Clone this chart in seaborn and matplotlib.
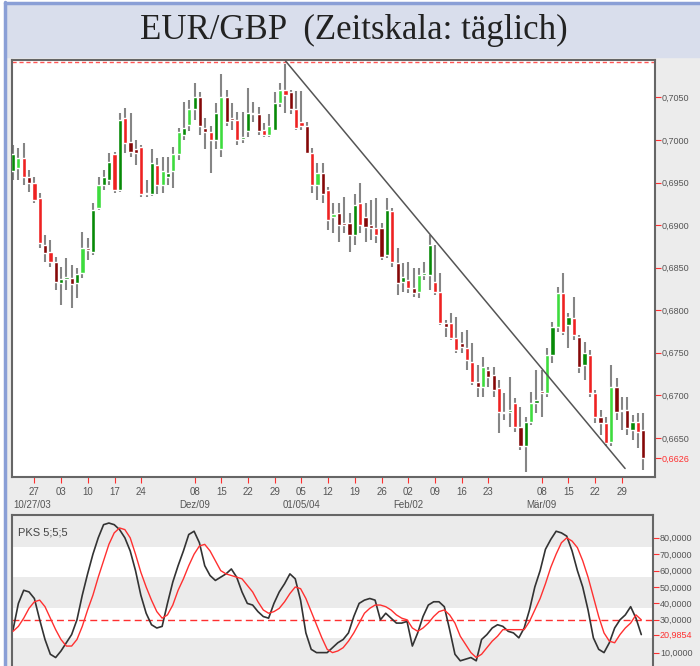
import numpy as np
import matplotlib
matplotlib.use("Agg")
import matplotlib.pyplot as plt
import matplotlib.transforms as mtransforms
from matplotlib.patches import Rectangle
from matplotlib.lines import Line2D
import seaborn as sns

opens = [0.6963, 0.6967, 0.6979, 0.6957, 0.6950, 0.6932, 0.6877, 0.6868, 0.6857, 0.6832,
         0.6837, 0.6838, 0.6832, 0.6844, 0.6873, 0.6868, 0.6920, 0.6947, 0.6953, 0.6983,
         0.6941, 0.7026, 0.6998, 0.6990, 0.6992, 0.6936, 0.6936, 0.6971, 0.6947, 0.6957,
         0.6963, 0.6983, 0.7006, 0.7018, 0.7036, 0.7050, 0.7014, 0.7009, 0.7000, 0.6989,
         0.7050, 0.7026, 0.7024, 0.7001, 0.7010, 0.7030, 0.7030, 0.7012, 0.7006, 0.7012,
         0.7044, 0.7059, 0.7056, 0.7036, 0.7021, 0.7016, 0.6985, 0.6947, 0.6961, 0.6941,
         0.6910, 0.6914, 0.6903, 0.6903, 0.6888, 0.6926, 0.6910, 0.6900, 0.6897, 0.6897,
         0.6865, 0.6916, 0.6856, 0.6833, 0.6836, 0.6826, 0.6821, 0.6841, 0.6841, 0.6833,
         0.6821, 0.6785, 0.6785, 0.6767, 0.6762, 0.6756, 0.6739, 0.6716, 0.6710, 0.6730,
         0.6724, 0.6709, 0.6680, 0.6680, 0.6691, 0.6663, 0.6641, 0.6669, 0.6691, 0.6705,
         0.6703, 0.6747, 0.6780, 0.6820, 0.6783, 0.6791, 0.6769, 0.6736, 0.6747, 0.6703,
         0.6674, 0.6667, 0.6645, 0.6710, 0.6682, 0.6683, 0.6659, 0.6669, 0.6659]
highs = [0.6994, 0.6991, 0.6997, 0.6965, 0.6957, 0.6938, 0.6888, 0.6883, 0.6863, 0.6851,
         0.6861, 0.6853, 0.6850, 0.6892, 0.6885, 0.6926, 0.6957, 0.6965, 0.6985, 0.6986,
         0.7032, 0.7038, 0.7032, 0.7000, 0.6994, 0.6953, 0.6989, 0.6979, 0.6980, 0.6980,
         0.6992, 0.7014, 0.7045, 0.7047, 0.7067, 0.7056, 0.7026, 0.7016, 0.7044, 0.7077,
         0.7059, 0.7044, 0.7033, 0.7033, 0.7061, 0.7045, 0.7039, 0.7020, 0.7030, 0.7056,
         0.7067, 0.7089, 0.7059, 0.7057, 0.7057, 0.7021, 0.6991, 0.6973, 0.6973, 0.6945,
         0.6926, 0.6926, 0.6933, 0.6914, 0.6936, 0.6950, 0.6926, 0.6930, 0.6932, 0.6903,
         0.6932, 0.6920, 0.6873, 0.6856, 0.6857, 0.6850, 0.6850, 0.6857, 0.6888, 0.6877,
         0.6844, 0.6789, 0.6797, 0.6792, 0.6774, 0.6777, 0.6762, 0.6736, 0.6745, 0.6733,
         0.6733, 0.6718, 0.6703, 0.6722, 0.6697, 0.6686, 0.6674, 0.6704, 0.6730, 0.6730,
         0.6756, 0.6786, 0.6827, 0.6844, 0.6797, 0.6816, 0.6771, 0.6763, 0.6753, 0.6706,
         0.6683, 0.6674, 0.6736, 0.6720, 0.6698, 0.6698, 0.6677, 0.6679, 0.6679]
lows = [0.6953, 0.6953, 0.6947, 0.6939, 0.6926, 0.6873, 0.6857, 0.6851, 0.6824, 0.6806,
        0.6824, 0.6803, 0.6814, 0.6838, 0.6859, 0.6865, 0.6918, 0.6941, 0.6947, 0.6938,
        0.6939, 0.6985, 0.6980, 0.6971, 0.6933, 0.6933, 0.6934, 0.6936, 0.6938, 0.6947,
        0.6944, 0.6977, 0.7000, 0.7010, 0.7024, 0.7006, 0.6989, 0.6961, 0.6989, 0.6980,
        0.7016, 0.7012, 0.6994, 0.6997, 0.7004, 0.7021, 0.7006, 0.7003, 0.7003, 0.7010,
        0.7039, 0.7032, 0.7030, 0.7012, 0.7012, 0.6983, 0.6938, 0.6930, 0.6926, 0.6894,
        0.6891, 0.6880, 0.6891, 0.6868, 0.6877, 0.6891, 0.6880, 0.6883, 0.6879, 0.6859,
        0.6861, 0.6851, 0.6818, 0.6821, 0.6820, 0.6816, 0.6814, 0.6836, 0.6824, 0.6818,
        0.6783, 0.6769, 0.6765, 0.6750, 0.6750, 0.6730, 0.6712, 0.6698, 0.6698, 0.6710,
        0.6698, 0.6656, 0.6671, 0.6663, 0.6657, 0.6636, 0.6610, 0.6665, 0.6679, 0.6674,
        0.6698, 0.6738, 0.6774, 0.6771, 0.6756, 0.6765, 0.6726, 0.6718, 0.6698, 0.6667,
        0.6653, 0.6641, 0.6641, 0.6671, 0.6659, 0.6653, 0.6647, 0.6638, 0.6612]
closes = [0.6983, 0.6979, 0.6956, 0.6950, 0.6930, 0.6879, 0.6867, 0.6857, 0.6833, 0.6837,
          0.6839, 0.6831, 0.6843, 0.6873, 0.6871, 0.6918, 0.6947, 0.6956, 0.6974, 0.6941,
          0.7024, 0.6997, 0.6986, 0.6985, 0.6936, 0.6938, 0.6973, 0.6947, 0.6963, 0.6961,
          0.6983, 0.7009, 0.7014, 0.7036, 0.7050, 0.7016, 0.7009, 0.7000, 0.7032, 0.7050,
          0.7021, 0.7024, 0.7000, 0.7003, 0.7032, 0.7032, 0.7010, 0.7006, 0.7016, 0.7044,
          0.7059, 0.7053, 0.7036, 0.7014, 0.7016, 0.6985, 0.6947, 0.6961, 0.6936, 0.6906,
          0.6913, 0.6900, 0.6900, 0.6888, 0.6924, 0.6900, 0.6898, 0.6897, 0.6888, 0.6863,
          0.6918, 0.6857, 0.6832, 0.6839, 0.6826, 0.6820, 0.6841, 0.6844, 0.6877, 0.6821,
          0.6785, 0.6780, 0.6767, 0.6753, 0.6757, 0.6742, 0.6716, 0.6710, 0.6733, 0.6722,
          0.6706, 0.6680, 0.6679, 0.6683, 0.6663, 0.6641, 0.6669, 0.6691, 0.6694, 0.6703,
          0.6747, 0.6780, 0.6820, 0.6774, 0.6792, 0.6771, 0.6733, 0.6750, 0.6703, 0.6674,
          0.6667, 0.6644, 0.6710, 0.6680, 0.6683, 0.6661, 0.6669, 0.6657, 0.6626]
# Farbton der Kerzen: L = hell, D = dunkel
shade = ("DLLDLLDLDD" "DDDLDDLDDL" "DLDDLDDLLD" "LLDLDDDLDL" "DDLDDDDLLD"
         "LLDLLDLLDL" "LDDDDLDDLD" "DLDDLDLDDL" "LDLLDLLDLD" "DLDDLDDLDD"
         "LDLLDLDDLL" "DLLDDDDLD")

# 2. Trendlinie (Start/Ende: Kerzenindex, Kurs)
trend_x = [51, 114.6]
trend_y = [0.7093, 0.6614]
top_line = 0.7092

# 3. PKS 5;5;5 (schwarz = %K, rot = %D)
pks_k = [24, 40, 48, 47, 43, 30, 18, 9, 7, 11, 16, 21, 30, 45, 58, 70, 80, 88, 89, 88,
         85, 80, 72, 60, 45, 34, 27, 25, 26, 40, 53, 63, 72, 82, 84, 77, 63, 57, 54, 56,
         58, 61, 56, 47, 40, 39, 35, 32, 31, 40, 47, 52, 58, 55, 42, 22, 12, 10, 10, 10,
         13, 16, 18, 22, 32, 40, 42, 43, 42, 30, 34, 31, 28, 28, 29, 14, 22, 32, 39, 41,
         41, 38, 24, 9, 5, 6, 7, 5, 18, 21, 25, 27, 26, 23, 22, 19, 25, 36, 50, 60,
         73, 79, 84, 83, 81, 72, 60, 50, 36, 19, 12, 10, 16, 25, 30, 33, 38, 31, 21]
pks_d = [23, 26, 31, 37, 41, 42, 38, 31, 24, 18, 14, 14, 18, 26, 36, 45, 56, 66, 76, 83,
         86, 85, 80, 70, 59, 50, 42, 35, 31, 33, 39, 48, 55, 63, 70, 75, 76, 72, 66, 60,
         58, 57, 56, 55, 51, 47, 41, 36, 34, 35, 37, 41, 46, 50, 49, 43, 35, 27, 19, 12,
         10, 11, 13, 17, 22, 28, 34, 37, 39, 39, 38, 36, 33, 31, 30, 25, 23, 25, 28, 32,
         35, 36, 33, 28, 20, 15, 10, 7, 9, 13, 17, 20, 24, 24, 24, 24, 24, 29, 36, 43,
         52, 62, 70, 77, 80, 78, 74, 66, 56, 44, 32, 22, 17, 16, 21, 25, 28, 33, 30]
pks_ref = 30
pks_last = 20.9854

# 4. Achsenbeschriftung
price_ticks = [0.7050, 0.7000, 0.6950, 0.6900, 0.6850, 0.6800, 0.6750, 0.6700, 0.6650]
last_price = 0.6626
day_pos = [4, 9, 14, 19, 24, 34, 39, 44, 49, 54, 59, 64, 69, 74, 79, 84, 89, 99, 104, 109, 114]
day_labels = ["27", "03", "10", "17", "24", "08", "15", "22", "29", "05", "12", "19",
              "26", "02", "09", "16", "23", "08", "15", "22", "29"]
month_pos = [34, 54, 74, 99]
month_labels = ["Dez/09", "01/05/04", "Feb/02", "Mär/09"]
first_label = "10/27/03"
pks_ticks = [80, 70, 60, 50, 40, 30, 10]

# 5. Grundlayout
sns.set_style("white")
plt.rcParams['font.family'] = ['Liberation Sans', 'DejaVu Sans']

W, H = 700, 666
fig = plt.figure(figsize=(W / 100, H / 100), dpi=100, facecolor='white')


def fx(px):
    return px / W


def fy(py):
    return 1 - py / H


fig.patches.append(Rectangle((fx(6), 0), 1, fy(57), transform=fig.transFigure,
                             color='#ececec', zorder=-10))
fig.patches.append(Rectangle((fx(6), fy(57)), 1, 54 / H, transform=fig.transFigure,
                             color='#d9deec', zorder=-10))
fig.lines.append(Line2D([fx(5), fx(5)], [0, fy(2)], transform=fig.transFigure,
                        color='#8a9fd6', lw=2.5))
fig.lines.append(Line2D([fx(5), 1], [fy(2.5), fy(2.5)], transform=fig.transFigure,
                        color='#8a9fd6', lw=2.5))
fig.text(fx(354), fy(30), "EUR/GBP  (Zeitskala: täglich)", ha='center', va='center',
         fontsize=25, color='#222222', family=['Liberation Serif', 'DejaVu Serif'])

# 6. Kerzenchart
ax = fig.add_axes([fx(12), fy(477), fx(655) - fx(12), (477 - 60) / H])
ax.set_facecolor('white')
idx = np.arange(len(closes))
o = np.array(opens)
c = np.array(closes)
palette = {(True, 'L'): '#3ddc3d', (True, 'D'): '#078a07',
           (False, 'L'): '#ee2222', (False, 'D'): '#850808'}
colors = [palette[(c[i] >= o[i], shade[i])] for i in idx]
ax.vlines(idx, lows, highs, color='#858585', lw=1.5, zorder=2)
ax.bar(idx, c - o, bottom=o, width=0.78, color=colors, zorder=3)
ax.plot(trend_x, trend_y, color='#555555', lw=1.1, zorder=4)
ax.axhline(top_line, color='#ff5555', ls=(0, (3, 2)), lw=1.0, zorder=1)

ax.set_xlim(-0.2, 120.2)
ax.set_ylim(0.6604, 0.7094)
ax.yaxis.tick_right()
ax.set_yticks(price_ticks + [last_price])
ax.set_yticklabels([f"{v:.4f}".replace('.', ',') for v in price_ticks + [last_price]])
ax.set_xticks(day_pos)
ax.set_xticklabels(day_labels)
ax.tick_params(axis='y', direction='out', length=4, color='#ff3030', labelsize=6.5,
               labelcolor='#555555', pad=1, right=True, left=False)
ax.get_yticklabels()[-1].set_color('#ff3030')
ax.tick_params(axis='x', direction='out', length=4, color='#ff3030', labelsize=7,
               labelcolor='#555555', pad=3, bottom=True)
for s in ax.spines.values():
    s.set_color('#666666')
    s.set_linewidth(1.5)

trans = mtransforms.blended_transform_factory(ax.transData, ax.transAxes)
ax.text(0, -0.067, first_label, transform=trans, ha='left', va='center',
        fontsize=7, color='#555555')
for p, lab in zip(month_pos, month_labels):
    ax.text(p, -0.067, lab, transform=trans, ha='center', va='center',
            fontsize=7, color='#555555')

# 7. PKS 5;5;5 Indikator
ax2 = fig.add_axes([fx(12), fy(670), fx(653) - fx(12), (670 - 515) / H])
ax2.set_facecolor('white')
for lo, hi in [(74.4, 100), (37, 56), (-5, 19)]:
    ax2.axhspan(lo, hi, color='#ebebeb', zorder=0, lw=0)
ax2.axhline(pks_ref, color='#ff3030', ls=(0, (5, 3)), lw=1.0, zorder=1)
sns.lineplot(x=idx, y=pks_d, color='#ff3030', lw=1.0, ax=ax2, zorder=3)
sns.lineplot(x=idx, y=pks_k, color='#333333', lw=1.2, ax=ax2, zorder=2)
ax2.set_xlim(-0.2, 120.2)
ax2.set_ylim(-0.6, 93.9)
ax2.set_xticks([])
ax2.set_xlabel('')
ax2.set_ylabel('')
ax2.yaxis.tick_right()
yt = pks_ticks[:6] + [pks_last] + pks_ticks[6:]
ax2.set_yticks(yt)
ax2.set_yticklabels([f"{v:.4f}".replace('.', ',') for v in yt])
ax2.tick_params(axis='y', direction='out', length=4, color='#ff3030', labelsize=6.5,
                labelcolor='#555555', pad=1, right=True, left=False)
ax2.get_yticklabels()[6].set_color('#ff3030')
for s in ax2.spines.values():
    s.set_color('#666666')
    s.set_linewidth(1.5)
ax2.text(0.01, 0.92, "PKS 5;5;5", transform=ax2.transAxes, ha='left', va='top',
         fontsize=8, color='#444444')

fig.savefig('out.png', dpi=100, facecolor=fig.get_facecolor())
